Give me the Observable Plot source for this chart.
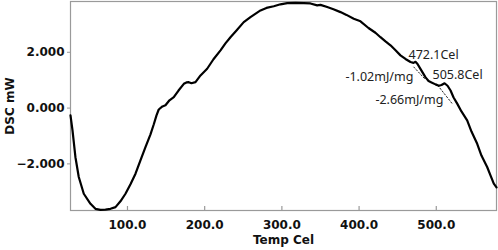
<!DOCTYPE html>
<html>
<head>
<meta charset="utf-8">
<script src="https://cdn.jsdelivr.net/npm/d3@7"></script>
<script src="https://cdn.jsdelivr.net/npm/@observablehq/plot@0.6"></script>
<style>
  html, body { margin: 0; padding: 0; background: #fff; }
  #chart svg { font-family: "DejaVu Sans", sans-serif; font-size: 12px; font-weight: bold; }
</style>
</head>
<body>
<div id="chart"></div>
<script>
// DSC curve: temperature (Cel) and DSC signal (mW)
const temp = [26.2, 28.8, 32.6, 36.9, 43.4, 52.1, 58.5, 65.0, 71.5, 78.0, 84.5, 90.9, 97.4, 103.9, 110.4, 116.8, 123.3, 129.8, 134.1, 137.6, 140.5, 145.3, 149.2, 154.4, 160.0, 166.1, 173.0, 176.4, 179.4, 182.9, 188.1, 194.6, 203.2, 211.4, 220.5, 226.9, 233.4, 241.2, 250.6, 259.3, 272.3, 280.0, 289.5, 298.2, 306.9, 317.6, 328.4, 337.0, 345.7, 350.0, 358.7, 366.8, 375.9, 383.7, 393.1, 401.8, 412.2, 421.2, 427.7, 434.2, 440.7, 447.2, 453.6, 460.1, 466.6, 470.5, 473.1, 475.7, 478.3, 482.2, 486.1, 490.0, 493.8, 499.0, 503.3, 506.8, 510.7, 514.6, 518.5, 522.4, 527.1, 532.6, 540.0, 545.6, 553.0, 558.5, 565.9, 570.2, 574.5, 578.0];
const dsc = [-0.26, -0.80, -1.76, -2.47, -3.07, -3.43, -3.61, -3.65, -3.64, -3.61, -3.55, -3.34, -3.07, -2.73, -2.35, -1.87, -1.40, -0.94, -0.58, -0.26, -0.05, 0.06, 0.10, 0.28, 0.39, 0.63, 0.87, 0.92, 0.93, 0.89, 0.93, 1.17, 1.41, 1.75, 2.07, 2.32, 2.54, 2.78, 3.08, 3.26, 3.50, 3.59, 3.65, 3.72, 3.76, 3.77, 3.76, 3.75, 3.68, 3.70, 3.62, 3.54, 3.44, 3.34, 3.20, 3.11, 2.87, 2.70, 2.54, 2.39, 2.25, 2.07, 1.89, 1.76, 1.65, 1.62, 1.66, 1.58, 1.46, 1.28, 1.10, 0.97, 0.92, 0.85, 0.80, 0.83, 0.89, 0.80, 0.63, 0.38, 0.16, -0.12, -0.44, -0.84, -1.28, -1.70, -2.11, -2.41, -2.71, -2.84];

// dotted baseline tangents at the two events
const tangent1 = [{t: 470.9, v: 1.47}, {t: 486.1, v: 1.02}];
const tangent2 = [{t: 502.0, v: 0.81}, {t: 520.6, v: 0.16}];

// annotation labels
const noteText = ["472.1Cel", "-1.02mJ/mg", "505.8Cel", "-2.66mJ/mg"];
const noteT = [464.0, 382.3, 495.1, 421.2];
const noteV = [1.89, 1.10, 1.17, 0.28];

const xTicks = [100, 200, 300, 400, 500];
const yTicks = [-2, 0, 2];
const xDomain = [26.2, 578];
const yDomain = [-3.67, 3.82];

const curve = temp.map((t, i) => ({t, v: dsc[i]}));
const notes = noteText.map((s, i) => ({s, t: noteT[i], v: noteV[i]}));

const chart = Plot.plot({
  width: 498,
  height: 250,
  marginLeft: 70,
  marginRight: 2,
  marginTop: 1,
  marginBottom: 40,
  style: {background: "#fff", overflow: "visible"},
  x: {domain: xDomain},
  y: {domain: yDomain},
  marks: [
    Plot.frame({stroke: "#9a9a9a", strokeWidth: 1.2}),
    Plot.tickX(xTicks, {x: d => d, insetTop: 205, stroke: "#9a9a9a", strokeWidth: 1.2}),
    Plot.axisX({ticks: xTicks, tickFormat: d3.format(".1f"), tickSize: 0, tickPadding: 10,
      label: "Temp Cel", labelAnchor: "center", labelOffset: 33, labelArrow: "none",
      fill: "#111", fontWeight: "bold"}),
    Plot.axisY({ticks: yTicks, tickFormat: d3.format(".3f"), tickSize: 3, tickPadding: 3,
      stroke: "#9a9a9a", label: "DSC mW", labelAnchor: "center", labelOffset: 65, labelArrow: "none",
      fill: "#111", fontWeight: "bold"}),
    Plot.line(tangent1, {x: "t", y: "v", stroke: "#222", strokeWidth: 1, strokeDasharray: "1.5,2"}),
    Plot.line(tangent2, {x: "t", y: "v", stroke: "#222", strokeWidth: 1, strokeDasharray: "1.5,2"}),
    Plot.line(curve, {x: "t", y: "v", stroke: "#000", strokeWidth: 2.2, curve: "linear"}),
    Plot.text(notes, {x: "t", y: "v", text: "s", textAnchor: "start", fill: "#222",
      fontFamily: "Noto Sans", fontSize: 12.5, fontWeight: "normal"})
  ]
});
document.getElementById("chart").appendChild(chart);
</script>
</body>
</html>
